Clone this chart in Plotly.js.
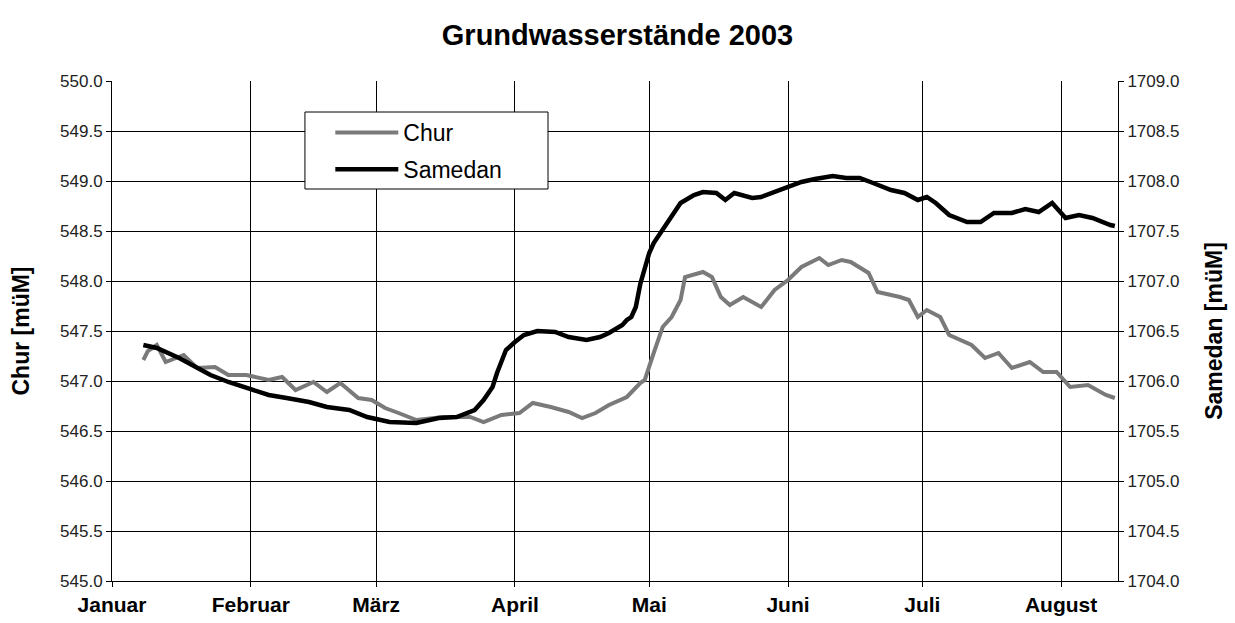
<!DOCTYPE html>
<html>
<head>
<meta charset="utf-8">
<script src="https://cdn.plot.ly/plotly-3.0.1.min.js"></script>
<style>html,body{margin:0;padding:0;background:#fff}#chart{width:1235px;height:623px}</style>
</head>
<body>
<div id="chart"></div>
<script>
const monthTicks = ['2003-01-01','2003-02-01','2003-03-01','2003-04-01','2003-05-01','2003-06-01','2003-07-01','2003-08-01'];
const monthLabels = ['Januar','Februar','März','April','Mai','Juni','Juli','August'];

const churDates = ['2003-01-08','2003-01-09','2003-01-11','2003-01-13','2003-01-17','2003-01-20','2003-01-24','2003-01-27','2003-01-31',
  '2003-02-05','2003-02-08','2003-02-11','2003-02-15','2003-02-18','2003-02-21','2003-02-25','2003-02-28',
  '2003-03-03','2003-03-06','2003-03-10','2003-03-16','2003-03-22','2003-03-25','2003-03-29',
  '2003-04-02','2003-04-05','2003-04-09','2003-04-13','2003-04-16','2003-04-19','2003-04-22','2003-04-26','2003-04-29','2003-04-30',
  '2003-05-02','2003-05-04','2003-05-06','2003-05-08','2003-05-09','2003-05-13','2003-05-15','2003-05-17','2003-05-19','2003-05-22','2003-05-26','2003-05-29',
  '2003-06-01','2003-06-04','2003-06-08','2003-06-10','2003-06-13','2003-06-15','2003-06-19','2003-06-21','2003-06-26','2003-06-28','2003-06-30',
  '2003-07-02','2003-07-05','2003-07-07','2003-07-12','2003-07-15','2003-07-18','2003-07-21','2003-07-25','2003-07-28','2003-07-31',
  '2003-08-03','2003-08-07','2003-08-11','2003-08-13'];
const churValues = [547.21,547.30,547.36,547.19,547.26,547.13,547.14,547.06,547.06,
  547.01,547.04,546.91,546.99,546.89,546.98,546.83,546.81,
  546.73,546.68,546.61,546.64,546.64,546.59,546.66,
  546.68,546.78,546.74,546.69,546.63,546.68,546.76,546.84,546.98,547.01,
  547.28,547.54,547.64,547.81,548.04,548.09,548.04,547.84,547.76,547.84,547.74,547.91,
  548.01,548.14,548.23,548.16,548.21,548.19,548.08,547.89,547.84,547.81,547.64,
  547.71,547.64,547.46,547.36,547.23,547.28,547.13,547.19,547.09,547.09,
  546.94,546.96,546.86,546.83];

const samedanDates = ['2003-01-08','2003-01-11','2003-01-16','2003-01-20','2003-01-23','2003-01-27','2003-01-31',
  '2003-02-05','2003-02-09','2003-02-14','2003-02-18','2003-02-23','2003-02-27',
  '2003-03-04','2003-03-10','2003-03-15','2003-03-19','2003-03-23','2003-03-25','2003-03-27','2003-03-28','2003-03-29','2003-03-30',
  '2003-04-01','2003-04-03','2003-04-06','2003-04-10','2003-04-13','2003-04-17','2003-04-20','2003-04-22','2003-04-25','2003-04-26','2003-04-27','2003-04-28','2003-04-29','2003-04-30',
  '2003-05-01','2003-05-02','2003-05-04','2003-05-06','2003-05-08','2003-05-11','2003-05-13','2003-05-16','2003-05-18','2003-05-20','2003-05-24','2003-05-26','2003-05-29',
  '2003-06-01','2003-06-04','2003-06-07','2003-06-11','2003-06-14','2003-06-17','2003-06-20','2003-06-24','2003-06-27','2003-06-30',
  '2003-07-02','2003-07-04','2003-07-07','2003-07-11','2003-07-14','2003-07-17','2003-07-21','2003-07-24','2003-07-27','2003-07-30','2003-07-31',
  '2003-08-02','2003-08-05','2003-08-08','2003-08-12','2003-08-13'];
const samedanValues = [1706.36,1706.33,1706.23,1706.14,1706.06,1705.99,1705.93,
  1705.86,1705.83,1705.79,1705.74,1705.71,1705.64,
  1705.59,1705.58,1705.63,1705.64,1705.71,1705.81,1705.94,1706.08,1706.21,1706.31,
  1706.39,1706.46,1706.50,1706.49,1706.44,1706.41,1706.44,1706.48,1706.56,1706.61,1706.64,1706.74,1706.97,1707.11,
  1707.28,1707.38,1707.51,1707.64,1707.78,1707.86,1707.89,1707.88,1707.81,1707.88,1707.83,1707.84,1707.89,
  1707.94,1707.99,1708.02,1708.05,1708.03,1708.03,1707.98,1707.91,1707.88,1707.81,
  1707.84,1707.78,1707.66,1707.59,1707.59,1707.68,1707.68,1707.72,1707.69,1707.78,1707.73,
  1707.63,1707.66,1707.63,1707.56,1707.55];

const FONT = 'Liberation Sans, Arial, sans-serif';

const traces = [
  {x: churDates, y: churValues, name: 'Chur', type: 'scatter', mode: 'lines',
   line: {color: '#7a7a7a', width: 4}, yaxis: 'y', legendgroup: 'a'},
  {x: samedanDates, y: samedanValues, name: 'Samedan', type: 'scatter', mode: 'lines',
   line: {color: '#000000', width: 4.5}, yaxis: 'y2', legendgroup: 'b'}
];

const layout = {
  width: 1235, height: 623,
  margin: {l: 112, r: 117, t: 81, b: 42},
  paper_bgcolor: '#fff', plot_bgcolor: '#fff',
  font: {family: FONT, color: '#000'},
  title: {text: 'Grundwasserstände 2003', font: {family: FONT, size: 29, weight: 'bold', color: '#000'},
          x: 0.5, xanchor: 'center', y: 0.944, yanchor: 'middle'},
  xaxis: {
    type: 'date', range: ['2003-01-01', '2003-08-13 17:00'],
    tickmode: 'array', tickvals: monthTicks, ticktext: monthLabels,
    ticks: 'outside', ticklen: 5, tickcolor: '#000', tickwidth: 1,
    tickfont: {family: FONT, size: 21, weight: 'bold', color: '#000'},
    showgrid: true, gridcolor: '#000', gridwidth: 1,
    showline: true, linecolor: '#000', linewidth: 1, zeroline: false
  },
  yaxis: {
    range: [545, 550], dtick: 0.5, tick0: 545, tickformat: '.1f',
    ticks: 'outside', ticklen: 5, tickcolor: '#000',
    tickfont: {family: FONT, size: 17, color: '#222'},
    showgrid: true, gridcolor: '#000', gridwidth: 1,
    showline: true, linecolor: '#000', linewidth: 1, zeroline: false,
    title: {text: 'Chur [müM]', font: {family: FONT, size: 23, weight: 'bold', color: '#000'}, standoff: 24}
  },
  yaxis2: {
    range: [1704, 1709], dtick: 0.5, tick0: 1704, tickformat: '.1f',
    overlaying: 'y', side: 'right',
    ticks: 'outside', ticklen: 5, tickcolor: '#000',
    tickfont: {family: FONT, size: 17, color: '#222'},
    showgrid: false, showline: true, linecolor: '#000', linewidth: 1, zeroline: false,
    title: {text: 'Samedan [müM]', font: {family: FONT, size: 23, weight: 'bold', color: '#000'}, standoff: 27}
  },
  showlegend: true,
  legend: {x: 0.217, y: 0.940, xanchor: 'left', yanchor: 'top', bgcolor: 'rgba(0,0,0,0)', borderwidth: 0,
           font: {family: FONT, size: 23, color: '#000'}, tracegroupgap: 4, itemwidth: 63},
  shapes: [
    {type: 'rect', xref: 'paper', yref: 'paper', x0: 0.1918, x1: 0.4334, y0: 0.784, y1: 0.938,
     line: {color: '#000', width: 1}, fillcolor: '#fff', layer: 'above'}
  ]
};

Plotly.newPlot('chart', traces, layout, {displayModeBar: false, staticPlot: true});
</script>
</body>
</html>
